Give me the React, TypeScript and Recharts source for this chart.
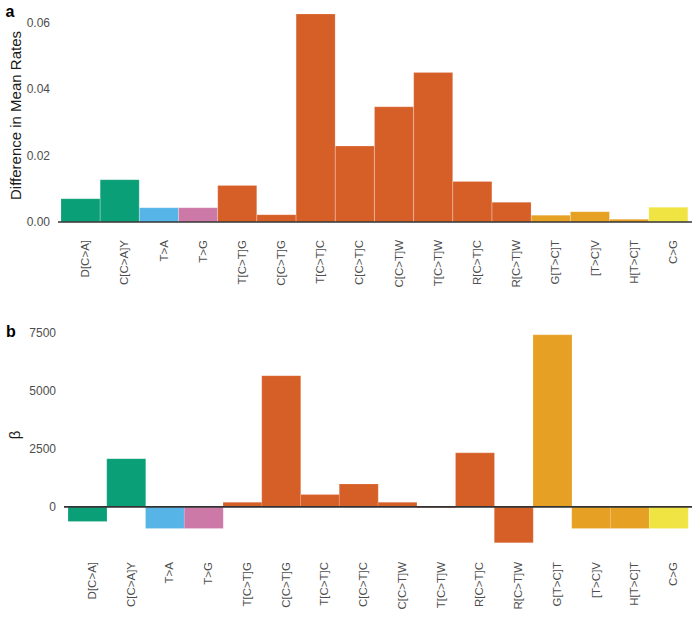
import React from 'react';
import { BarChart, Bar, XAxis, YAxis, CartesianGrid, ReferenceLine, Cell } from 'recharts';

const categories = ['D[C>A]', 'C[C>A]Y', 'T>A', 'T>G', 'T[C>T]G', 'C[C>T]G', 'T[C>T]C', 'C[C>T]C', 'C[C>T]W', 'T[C>T]W', 'R[C>T]C', 'R[C>T]W', 'G[T>C]T', '[T>C]V', 'H[T>C]T', 'C>G'];
const rateDiff = [0.0070, 0.0127, 0.0043, 0.0043, 0.0110, 0.0022, 0.0625, 0.0228, 0.0346, 0.0449, 0.0122, 0.0059, 0.0020, 0.0031, 0.0008, 0.0044];
const beta = [-630, 2080, -935, -935, 200, 5660, 530, 990, 200, -40, 2330, -1550, 7420, -935, -935, -935];
const groups = ['CA', 'CA', 'TA', 'TG', 'CT', 'CT', 'CT', 'CT', 'CT', 'CT', 'CT', 'CT', 'TC', 'TC', 'TC', 'CG'];
const groupColors: Record<string, string> = {
  CA: '#0A9F76',
  TA: '#57B4E7',
  TG: '#CC79A7',
  CT: '#D65F28',
  TC: '#E6A024',
  CG: '#F0E442',
};

const rateTicks = [0, 0.02, 0.04, 0.06];
const rateMinor = [0.01, 0.03, 0.05];
const betaTicks = [0, 2500, 5000, 7500];
const betaMinor = [-1250, 1250, 3750, 6250];

const FONT = '"Liberation Sans", Arial, Helvetica, sans-serif';

const dataA = categories.map((cat, i) => ({ cat, value: rateDiff[i], group: groups[i] }));
const dataB = categories.map((cat, i) => ({ cat, value: beta[i], group: groups[i] }));

const gridAt = (values: number[]) => (args: any) => {
  const yAxis = args && args.yAxis;
  if (yAxis && typeof yAxis.scale === 'function') {
    return values.map((v) => yAxis.scale(v));
  }
  return [];
};

const XTick = (props: any) => {
  const { x, y, payload } = props;
  return (
    <g transform={`translate(${x},${y})`}>
      <text
        transform="rotate(-90)"
        x={-10}
        y={4.5}
        dy="0.35em"
        textAnchor="end"
        fill="#4D4D4D"
        fontSize={11.5}
        fontFamily={FONT}
      >
        {payload.value}
      </text>
    </g>
  );
};

const yLabel = (text: string, dx: number) => (props: any) => {
  const vb = props.viewBox || { x: 0, y: 0, width: 0, height: 0 };
  return (
    <text
      transform={`translate(${vb.x + dx},${vb.y + vb.height / 2}) rotate(-90)`}
      textAnchor="middle"
      fill="#1A1A1A"
      fontSize={15}
      fontFamily={FONT}
    >
      {text}
    </text>
  );
};

const Panel = (props: {
  data: any[];
  domain: [number, number];
  ticks: number[];
  minor: number[];
  yWidth: number;
  top: number;
  height: number;
  label: string;
  labelDx: number;
  fmt: (v: number) => string;
  padLeft: number;
}) => (
  <BarChart
    width={700}
    height={props.height}
    data={props.data}
    margin={{ top: props.top, right: 8, bottom: 0, left: 0 }}
    barCategoryGap={0}
    barGap={0}
  >
    <CartesianGrid vertical={false} stroke="#E9E9E9" strokeWidth={0.8} horizontalCoordinatesGenerator={gridAt(props.minor)} />
    <CartesianGrid vertical={false} stroke="#E4E4E4" strokeWidth={1.2} horizontalCoordinatesGenerator={gridAt(props.ticks)} />
    <XAxis
      dataKey="cat"
      interval={0}
      tickLine={false}
      axisLine={false}
      height={78}
      tick={<XTick />}
      padding={{ left: props.padLeft, right: 4 }}
    />
    <YAxis
      type="number"
      domain={props.domain}
      ticks={props.ticks}
      allowDataOverflow
      width={props.yWidth}
      axisLine={false}
      tickLine={false}
      tickFormatter={props.fmt}
      tick={{ fill: '#4D4D4D', fontSize: 12, fontFamily: FONT }}
      label={{ content: yLabel(props.label, props.labelDx) }}
    />
    <Bar dataKey="value" isAnimationActive={false} stroke="#FFFFFF" strokeOpacity={0.3} strokeWidth={0.6}>
      {props.data.map((d, i) => (
        <Cell key={i} fill={groupColors[d.group]} />
      ))}
    </Bar>
    <ReferenceLine y={0} stroke="#333333" strokeWidth={1.7} />
  </BarChart>
);

export default function App() {
  return (
    <div style={{ position: 'absolute', left: 0, top: 0, width: 700, height: 622, background: '#FFFFFF' }}>
      <div style={{ position: 'absolute', left: 0, top: 0 }}>
        <Panel
          data={dataA}
          domain={[0, 0.064]}
          ticks={rateTicks}
          minor={rateMinor}
          yWidth={58}
          top={9}
          height={300}
          label="Difference in Mean Rates"
          labelDx={20.5}
          fmt={(v) => v.toFixed(2)}
          padLeft={3}
        />
      </div>
      <div style={{ position: 'absolute', left: 0, top: 300 }}>
        <Panel
          data={dataB}
          domain={[-1600, 7800]}
          ticks={betaTicks}
          minor={betaMinor}
          yWidth={64}
          top={26}
          height={322}
          label="β"
          labelDx={20}
          fmt={(v) => String(v)}
          padLeft={4}
        />
      </div>
      <svg width={700} height={622} style={{ position: 'absolute', left: 0, top: 0, pointerEvents: 'none' }}>
        <text x={5.5} y={17} fontSize={16} fontWeight="bold" fill="#000000" fontFamily={FONT}>a</text>
        <text x={6} y={337} fontSize={16} fontWeight="bold" fill="#000000" fontFamily={FONT}>b</text>
      </svg>
    </div>
  );
}
